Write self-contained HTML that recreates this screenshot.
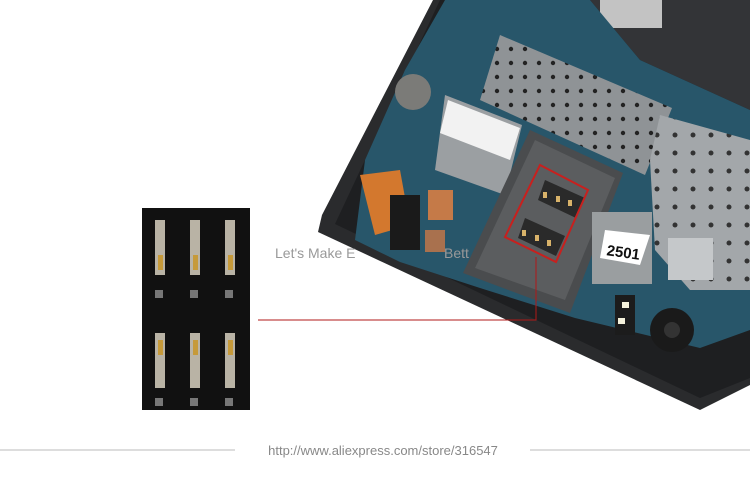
<!DOCTYPE html>
<html><head><style>
body{margin:0;background:#fff;width:750px;height:500px;overflow:hidden;position:relative;font-family:"Liberation Sans",sans-serif}
svg{position:absolute;left:0;top:0}
</style></head><body>
<svg width="750" height="500" viewBox="0 0 750 500">
<defs>
<pattern id="dots" width="14" height="14" patternUnits="userSpaceOnUse"><rect width="14" height="14" fill="#8f9396"/><circle cx="7" cy="7" r="2.2" fill="#222"/></pattern>
<pattern id="dots2" width="18" height="18" patternUnits="userSpaceOnUse"><rect width="18" height="18" fill="#a3a7aa"/><circle cx="9" cy="9" r="2.5" fill="#333"/></pattern>
</defs>
<polygon points="433,0 750,0 750,385 700,410 318,232 322,215" fill="#2a2b2d"/>
<polygon points="440,0 750,0 750,378 700,398 335,224" fill="#1e1f21"/>
<polygon points="590,0 750,0 750,110 640,60" fill="#333437"/>
<rect x="600" y="0" width="62" height="28" fill="#c3c3c3"/>
<!-- board -->
<polygon points="445,0 590,0 640,60 750,110 750,330 700,348 575,318 480,288 400,262 355,240 365,160 405,70" fill="#28566a"/>
<polygon points="500,35 672,108 645,175 480,100" fill="url(#dots)"/>
<polygon points="660,115 750,140 750,290 690,290 655,250 650,160" fill="url(#dots2)"/>
<rect x="668" y="238" width="45" height="42" fill="#c5c8ca"/>
<polygon points="445,95 522,125 505,195 435,170" fill="#9b9fa2"/>
<polygon points="448,100 520,128 510,160 440,133" fill="#f2f2f2"/>
<circle cx="413" cy="92" r="18" fill="#7b7b78"/>
<!-- SIM shield -->
<polygon points="530,130 623,173 570,313 463,273" fill="#4a4c4e"/>
<polygon points="535,140 615,178 565,300 475,268" fill="#5b5d5f"/>
<rect x="592" y="212" width="60" height="72" fill="#9a9ea0"/>
<polygon points="605,230 650,235 640,265 600,258" fill="#fff"/>
<text x="607" y="257" font-size="15" font-weight="bold" fill="#111" transform="rotate(8 620 250)">2501</text>
<polygon points="360,175 400,170 410,225 375,235" fill="#d3782e"/>
<rect x="428" y="190" width="25" height="30" fill="#c57a48"/>
<rect x="425" y="230" width="20" height="22" fill="#a9714e"/>
<rect x="390" y="195" width="30" height="55" fill="#1a1a1a"/>
<circle cx="672" cy="330" r="22" fill="#1a1a1a"/>
<circle cx="672" cy="330" r="8" fill="#333"/>
<rect x="615" y="295" width="20" height="40" fill="#1c1c1c"/>
<rect x="622" y="302" width="7" height="6" fill="#f5f2dc"/>
<rect x="618" y="318" width="7" height="6" fill="#f5f2dc"/>
<polygon points="545,180 585,198 576,218 538,200" fill="#2a2a2a"/>
<polygon points="525,218 565,236 556,256 518,238" fill="#2a2a2a"/>
<g fill="#d9b36a">
<rect x="543" y="192" width="4" height="6"/><rect x="556" y="196" width="4" height="6"/><rect x="568" y="200" width="4" height="6"/>
<rect x="522" y="230" width="4" height="6"/><rect x="535" y="235" width="4" height="6"/><rect x="547" y="240" width="4" height="6"/>
</g>
<text x="275" y="258" font-size="14" fill="#999">Let's Make E</text>
<text x="444" y="258" font-size="14" fill="#999">Bett</text>
<polygon points="540,165 588,190 556,262 505,237" fill="none" stroke="#c8201e" stroke-width="2"/>
<polyline points="258,320 536,320 536,257" fill="none" stroke="#b01818" stroke-width="1"/>
<rect x="142" y="208" width="108" height="202" fill="#111"/>
<g fill="#b9b3a5">
<rect x="155" y="220" width="10" height="55"/><rect x="190" y="220" width="10" height="55"/><rect x="225" y="220" width="10" height="55"/>
<rect x="155" y="333" width="10" height="55"/><rect x="190" y="333" width="10" height="55"/><rect x="225" y="333" width="10" height="55"/>
</g>
<g fill="#c69a3a">
<rect x="158" y="255" width="5" height="15"/><rect x="193" y="255" width="5" height="15"/><rect x="228" y="255" width="5" height="15"/>
<rect x="158" y="340" width="5" height="15"/><rect x="193" y="340" width="5" height="15"/><rect x="228" y="340" width="5" height="15"/>
</g>
<g fill="#777">
<rect x="155" y="290" width="8" height="8"/><rect x="190" y="290" width="8" height="8"/><rect x="225" y="290" width="8" height="8"/>
<rect x="155" y="398" width="8" height="8"/><rect x="190" y="398" width="8" height="8"/><rect x="225" y="398" width="8" height="8"/>
</g>
<line x1="0" y1="450" x2="235" y2="450" stroke="#bbb"/>
<line x1="530" y1="450" x2="750" y2="450" stroke="#bbb"/>
<text x="383" y="455" font-size="13" fill="#888" text-anchor="middle">http://www.aliexpress.com/store/316547</text>
</svg>
</body></html>
